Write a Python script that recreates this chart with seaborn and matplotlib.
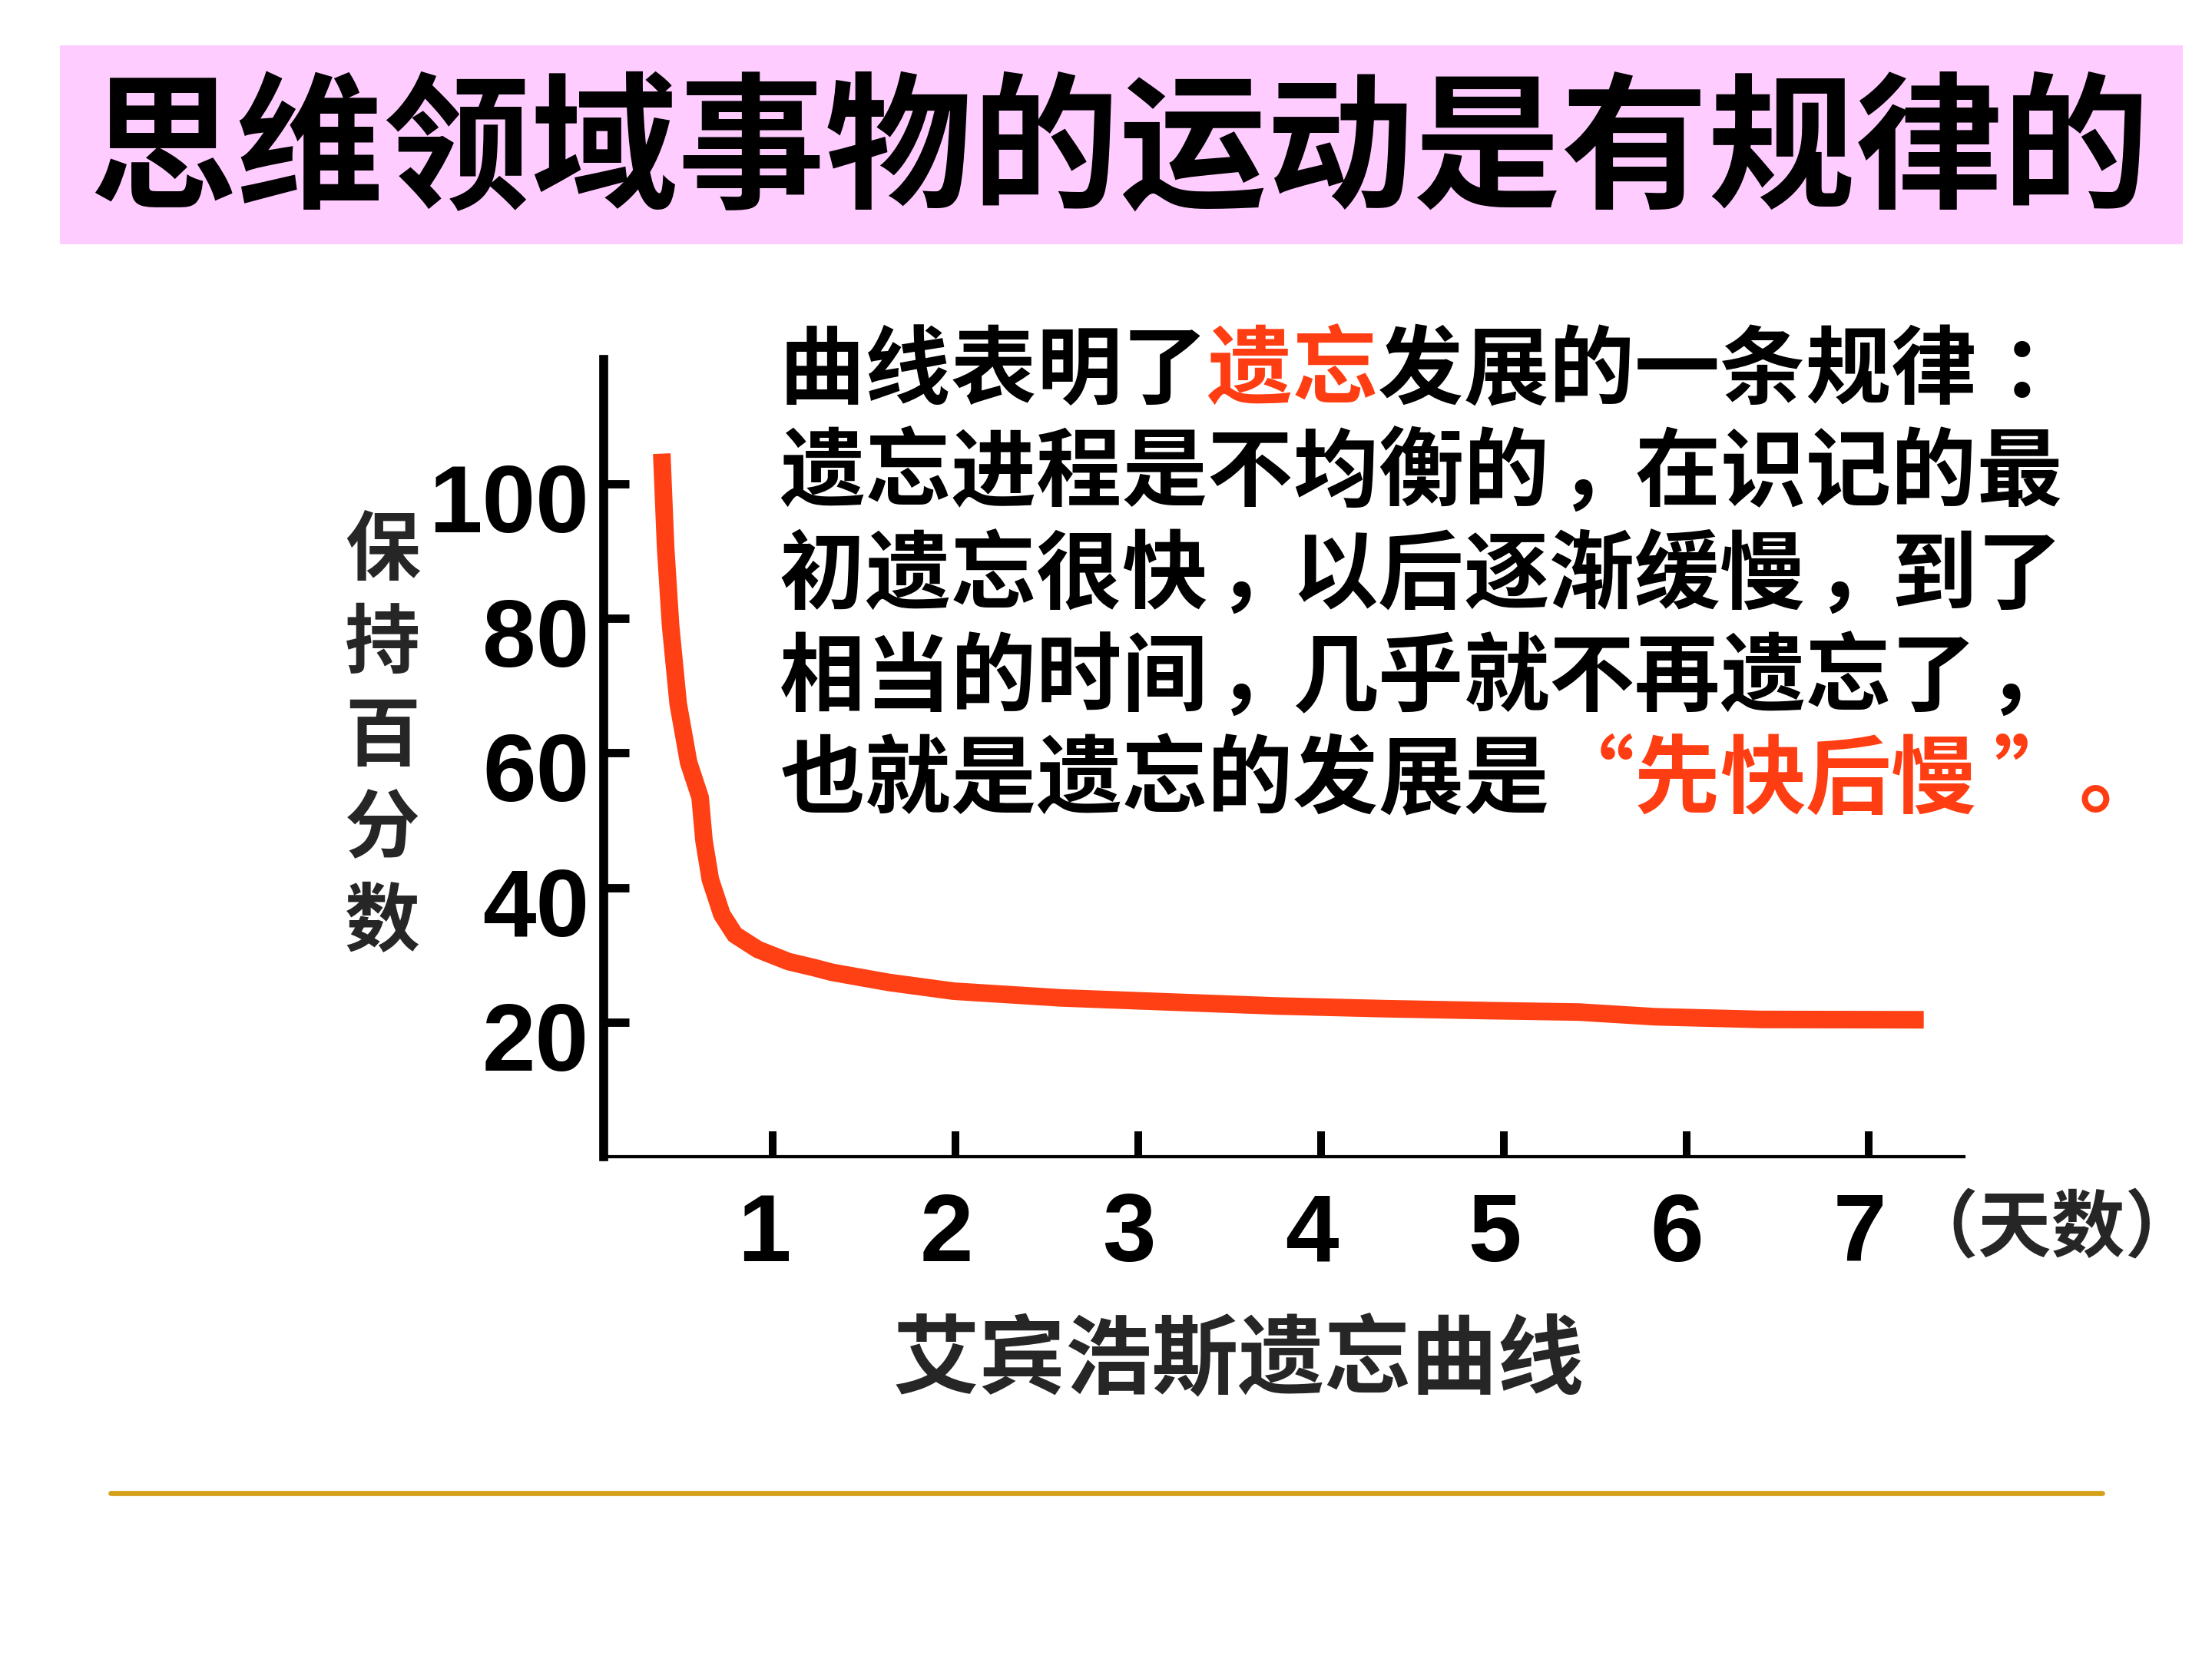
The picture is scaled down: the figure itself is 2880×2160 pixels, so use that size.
import matplotlib
matplotlib.use("Agg")
import matplotlib.pyplot as plt
import seaborn as sns
import pandas as pd
from matplotlib.transforms import ScaledTranslation
from matplotlib.patches import Rectangle
from matplotlib.lines import Line2D

# ---------------- data ----------------
days = [0.391, 0.412, 0.439, 0.481, 0.538, 0.601, 0.622, 0.657, 0.720, 0.791,
        0.917, 1.085, 1.225, 1.324, 1.635, 1.99, 2.58, 3.17, 3.76, 4.35,
        4.94, 5.41, 5.83, 6.41, 7.30]
retention = [104.5, 90.6, 79.0, 67.3, 58.6, 53.4, 47.0, 41.2, 36.0, 33.0,
             30.8, 29.0, 28.1, 27.4, 25.9, 24.6, 23.6, 23.0, 22.4, 22.0,
             21.7, 21.5, 20.8, 20.4, 20.35]
x_ticks = [1, 2, 3, 4, 5, 6, 7]
y_ticks = [20, 40, 60, 80, 100]

title = "思维领域事物的运动是有规律的"
ylabel_chars = "保持百分数"
xlabel = "艾宾浩斯遗忘曲线"
unit_label = "（天数）"
para_lines = [
    [("曲线表明了", False), ("遗忘", True), ("发展的一条规律：", False)],
    [("遗忘进程是不均衡的，在识记的最", False)],
    [("初遗忘很快，以后逐渐缓慢，到了", False)],
    [("相当的时间，几乎就不再遗忘了，", False)],
    [("也就是遗忘的发展是", False), ("“先快后慢”。", True)],
]

# ---------------- style ----------------
sns.set_style("white")
CJK = ["Noto Sans CJK SC", "DejaVu Sans"]
NUM = ["Liberation Sans", "DejaVu Sans"]
plt.rcParams["font.family"] = CJK

RED = "#FF3D12"
CURVE = "#FF4015"
PINK = "#FFCCFF"
GOLD = "#D4A017"

W, H = 2880, 2160
DPI = 300
fig = plt.figure(figsize=(W / DPI, H / DPI), dpi=DPI)
fig.patch.set_facecolor("white")


def fx(px):
    return px / W


def fy(py):
    return 1 - py / H


# title band
fig.patches.append(Rectangle((fx(78), fy(318)), fx(2842) - fx(78), (318 - 59) / H,
                             transform=fig.transFigure, facecolor=PINK,
                             edgecolor="none", zorder=0))
fig.text(fx(1457), fy(201), title, ha="center", va="center", fontsize=46,
         fontweight="bold", family=CJK, color="black")

# axes
ax = fig.add_axes([fx(786), fy(1506), fx(2557) - fx(786), (1506 - 468) / H])
ax.set_facecolor("none")
df = pd.DataFrame({"day": days, "retention": retention})
sns.lineplot(data=df, x="day", y="retention", sort=False, estimator=None,
             color=CURVE, linewidth=5.5, solid_capstyle="butt",
             solid_joinstyle="round", ax=ax)
ax.set_xlim(0.073, 7.52)
ax.set_ylim(0, 118.5)
for s in ["top", "right"]:
    ax.spines[s].set_visible(False)
ax.spines["left"].set_linewidth(2.8)
ax.spines["bottom"].set_linewidth(1.0)
ax.spines["left"].set_color("black")
ax.spines["bottom"].set_color("black")
ax.set_xticks(x_ticks)
ax.set_yticks(y_ticks)
ax.set_xticklabels([str(v) for v in x_ticks])
ax.set_yticklabels([str(v) for v in y_ticks])
ax.tick_params(axis="x", bottom=True, direction="in", length=8, width=2.4,
               pad=11, labelsize=30, colors="black")
ax.tick_params(axis="y", left=True, direction="in", length=8, width=2.6,
               pad=4.5, labelsize=30, colors="black")
ax.set_xlabel("")
ax.set_ylabel("")
for lab in ax.get_xticklabels():
    lab.set_fontfamily(NUM)
    lab.set_fontweight("bold")
    lab.set_transform(lab.get_transform() +
                      ScaledTranslation(-12 / DPI, 0, fig.dpi_scale_trans))
for lab in ax.get_yticklabels():
    lab.set_fontfamily(NUM)
    lab.set_fontweight("bold")
    lab.set_transform(lab.get_transform() +
                      ScaledTranslation(0, -18 / DPI, fig.dpi_scale_trans))

# vertical y label
for i, ch in enumerate(ylabel_chars):
    fig.text(fx(498), fy(718 + 121 * i), ch, ha="center", va="center",
             fontsize=23.5, fontweight="bold", family=CJK)

# unit label and x label
fig.text(fx(2671), fy(1600), unit_label, ha="center", va="center",
         fontsize=23, fontweight="bold", family=CJK)
fig.text(fx(1613), fy(1772), xlabel, ha="center", va="center",
         fontsize=27, fontweight="bold", family=CJK)

# paragraph, laid out on a full-width character grid
para_fs = 26.7
adv = 111.3
x0 = 1015
base0 = 517
pitch = 133.3
for li, segs in enumerate(para_lines):
    col = 0
    for text, hl in segs:
        for ch in text:
            cx = x0 + col * adv
            if ch == "，":
                xx, ha = cx + 0.12 * adv, "left"
            elif ch == "。":
                xx, ha = cx + 0.2 * adv, "left"
            elif ch == "：":
                xx, ha = cx + 0.28 * adv, "left"
            elif ch == "“":
                xx, ha = cx + adv, "right"
            elif ch == "”":
                xx, ha = cx + 0.2 * adv, "left"
            else:
                xx, ha = cx + adv / 2, "center"
            fig.text(fx(xx), fy(base0 + li * pitch), ch, ha=ha, va="baseline",
                     fontsize=para_fs, fontweight="bold", family=CJK,
                     color=RED if hl else "black")
            col += 1

# golden rule at the bottom
fig.lines.append(Line2D([fx(144), fx(2737)], [fy(1944), fy(1944)],
                        transform=fig.transFigure, color=GOLD, linewidth=1.6))

fig.savefig("out.png", dpi=DPI, facecolor="white")
